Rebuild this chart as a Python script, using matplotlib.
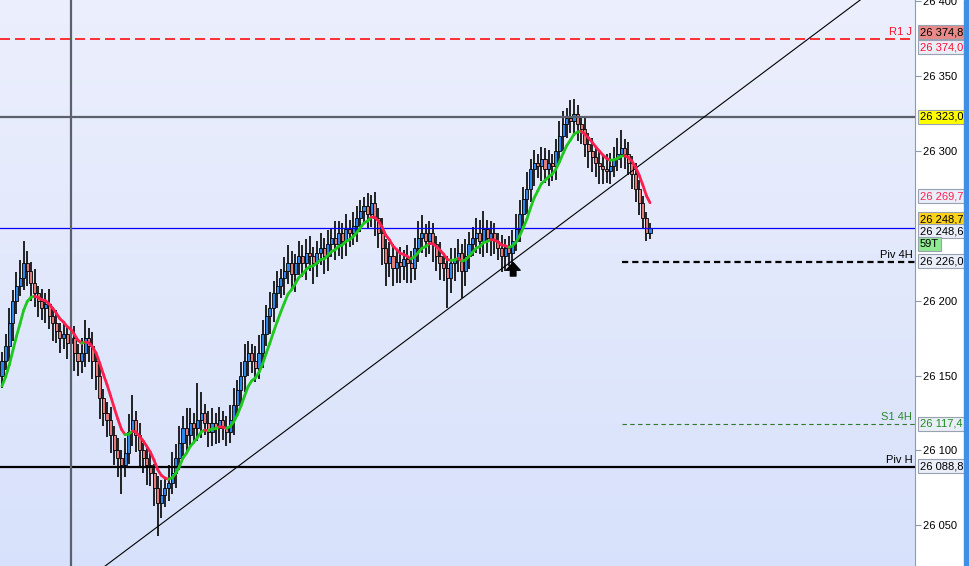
import numpy as np
import matplotlib.pyplot as plt
import matplotlib.transforms as mtransforms
from matplotlib.collections import LineCollection
from matplotlib.patches import Rectangle

plt.rcParams['font.family'] = ['Liberation Sans', 'DejaVu Sans']

# closes de chaque bougie
closes = [
    26160, 26170, 26185, 26200, 26210, 26215, 26225, 26220, 26212, 26205,
    26200, 26195, 26198, 26190, 26185, 26180, 26175, 26178, 26172, 26175,
    26165, 26160, 26165, 26175, 26170, 26160, 26150, 26135, 26125, 26120,
    26110, 26100, 26095, 26090, 26098, 26112, 26120, 26110, 26100, 26095,
    26090, 26085, 26075, 26065, 26070, 26075, 26078, 26085, 26095, 26105,
    26115, 26110, 26118, 26115, 26120, 26125, 26118, 26112, 26118, 26115,
    26120, 26115, 26112, 26120, 26130, 26140, 26150, 26160, 26165, 26160,
    26155, 26165, 26178, 26190, 26195, 26205, 26210, 26215, 26220, 26225,
    26218, 26225, 26230, 26225, 26232, 26230, 26225, 26232, 26235, 26230,
    26238, 26242, 26238, 26245, 26240, 26248, 26245, 26250, 26255, 26260,
    26263, 26258, 26265, 26255, 26245, 26235, 26225, 26230, 26222, 26226,
    26223, 26228, 26225, 26222, 26235, 26242, 26245, 26240, 26245, 26238,
    26230, 26225, 26222, 26215, 26225, 26228, 26232, 26220, 26230, 26238,
    26242, 26245, 26240, 26248, 26242, 26245, 26240, 26235, 26230, 26235,
    26232, 26240, 26248, 26258, 26268, 26275, 26288, 26292, 26290, 26295,
    26288, 26292, 26290, 26300, 26310, 26318, 26322, 26320, 26325, 26318,
    26315, 26305, 26300, 26296, 26292, 26290, 26288, 26287, 26290, 26295,
    26298, 26302, 26298, 26292, 26285, 26275, 26265, 26255, 26245, 26248.7,
]
first_open = 26150

# meches haute / basse (points au-dessus / au-dessous du corps)
wick_up = [
    6, 8, 10, 7, 9, 12, 15, 8, 6, 9,
    5, 8, 7, 10, 6, 9, 5, 8, 6, 7,
    8, 6, 10, 12, 7, 9, 5, 8, 6, 7,
    9, 6, 8, 5, 10, 12, 17, 6, 8, 5,
    7, 9, 6, 8, 10, 7, 12, 14, 9, 11,
    8, 13, 10, 7, 25, 14, 6, 8, 10, 7,
    9, 6, 8, 10, 12, 7, 9, 11, 8, 6,
    10, 12, 9, 7, 11, 8, 10, 6, 9, 12,
    8, 6, 10, 7, 9, 11, 6, 8, 10, 7,
    9, 6, 11, 8, 7, 10, 6, 9, 8, 7,
    6, 9, 6, 8, 7, 10, 6, 9, 8, 7,
    10, 6, 9, 8, 7, 11, 12, 6, 8, 7,
    5, 9, 6, 8, 10, 7, 9, 6, 11, 8,
    7, 10, 9, 12, 6, 8, 7, 5, 9, 6,
    8, 7, 10, 9, 8, 11, 7, 9, 6, 8,
    7, 9, 6, 8, 10, 9, 7, 12, 10, 6,
    5, 8, 7, 9, 6, 8, 7, 10, 9, 8,
    11, 12, 6, 8, 5, 7, 6, 5, 4, 3,
]
wick_dn = [
    8, 6, 10, 12, 9, 7, 8, 10, 12, 9,
    11, 8, 10, 9, 12, 8, 10, 7, 11, 9,
    12, 10, 8, 9, 11, 12, 10, 14, 9, 11,
    12, 10, 13, 19, 8, 7, 9, 11, 12, 10,
    13, 9, 12, 22, 10, 8, 9, 7, 10, 8,
    9, 11, 8, 10, 9, 12, 8, 10, 9, 11,
    10, 8, 9, 7, 10, 8, 9, 11, 10, 8,
    9, 7, 10, 8, 12, 9, 10, 8, 11, 9,
    10, 12, 8, 9, 11, 10, 14, 9, 8, 12,
    10, 9, 11, 8, 12, 10, 9, 8, 11, 9,
    8, 10, 9, 12, 10, 11, 15, 9, 12, 10,
    11, 9, 13, 10, 8, 9, 10, 11, 9, 12,
    10, 11, 9, 20, 10, 12, 9, 18, 10, 9,
    8, 10, 9, 11, 10, 12, 9, 8, 11, 10,
    9, 8, 7, 9, 8, 10, 9, 11, 8, 10,
    9, 11, 10, 9, 8, 10, 9, 8, 10, 11,
    10, 9, 11, 10, 9, 12, 10, 8, 9, 7,
    8, 9, 10, 8, 10, 9, 8, 7, 5, 4,
]

ma_start = 26143
ma_span = 8

# niveaux
r1_j = 26374.8
res_gris = 26323.0
ligne_bleue = 26248.6
piv_4h = 26226.0
s1_4h = 26117.4
piv_h = 26088.8
ligne_verticale = 19
oblique = [(28.5, 26022.7), (236.5, 26400.0)]
fleche = (141.2, 26216.5, 26225.5)

ticks = [26050, 26100, 26150, 26200, 26300, 26350, 26400]
tick_labels = ['26 050', '26 100', '26 150', '26 200', '26 300', '26 350', '26 400']

closes = np.array(closes, dtype=float)
n = len(closes)
x = np.arange(n)
opens = np.r_[first_open, closes[:-1]]
highs = np.maximum(opens, closes) + np.array(wick_up)
lows = np.minimum(opens, closes) - np.array(wick_dn)

alpha = 2 / (ma_span + 1)
ma = np.empty(n)
ma[0] = ma_start
for i in range(1, n):
    ma[i] = ma[i - 1] + alpha * (closes[i] - ma[i - 1])

fig = plt.figure(figsize=(9.69, 5.66), dpi=100)
fig.patch.set_facecolor('white')
ax = fig.add_axes([0, 0, 915 / 969, 1])

xmin, xmax = -0.55, 252.2
ymin, ymax = 26022.7, 26401

# fond degrade
top = np.array([0.925, 0.937, 0.99])
bot = np.array([0.845, 0.885, 0.985])
t = np.linspace(0, 1, 256)[:, None]
grad = (top * (1 - t) + bot * t)[:, None, :]
ax.imshow(grad, extent=[0, 1, 0, 1], transform=ax.transAxes, aspect='auto', zorder=0)

# bougies
ax.vlines(x, lows, highs, color='black', lw=1.2, zorder=2)
up = closes >= opens
bottom = np.minimum(opens, closes)
height = np.maximum(np.abs(closes - opens), 0.8)
ax.bar(x[up], height[up], bottom=bottom[up], width=0.85, color='#2f86e6',
       edgecolor='black', linewidth=0.6, zorder=3)
ax.bar(x[~up], height[~up], bottom=bottom[~up], width=0.85, color='#e07c7a',
       edgecolor='black', linewidth=0.6, zorder=3)

# lignes horizontales
ax.axhline(r1_j, color='#ff1010', lw=1.2, ls=(0, (6, 3)), zorder=4)
ax.axhline(res_gris, color='#5c606c', lw=1.6, zorder=4)
ax.axhline(ligne_bleue, color='#0000ff', lw=0.9, zorder=4)
ax.hlines(piv_4h, 171.3, xmax, color='black', lw=1.6, ls=(0, (2.8, 1.8)), zorder=4)
ax.hlines(s1_4h, 171.3, xmax, color='#2d7a2d', lw=0.8, ls=(0, (4, 3)), zorder=4)
ax.axhline(piv_h, color='black', lw=1.6, zorder=4)
ax.axvline(ligne_verticale, color='#5c606c', lw=1.6, zorder=4)
ax.axline(oblique[0], oblique[1], color='black', lw=0.8, zorder=4)

# moyenne mobile verte / rouge
segs = [[(x[i], ma[i]), (x[i + 1], ma[i + 1])] for i in range(n - 1)]
cols = ['#1ec81e' if ma[i + 1] >= ma[i] else '#ff1f4f' for i in range(n - 1)]
ax.add_collection(LineCollection(segs, colors=cols, linewidths=2.0, zorder=5,
                                 capstyle='round'))

# fleche
ax.annotate('', xy=(fleche[0], fleche[2]), xytext=(fleche[0], fleche[1]),
            arrowprops=dict(arrowstyle='simple,head_length=0.55,head_width=1.0,tail_width=0.4',
                            fc='black', ec='black', mutation_scale=10,
                            shrinkA=0, shrinkB=0), zorder=6)

ax.set_xlim(xmin, xmax)
ax.set_ylim(ymin, ymax)

for s in ['left', 'top', 'bottom']:
    ax.spines[s].set_visible(False)
ax.spines['right'].set_color('#8e9aae')
ax.set_xticks([])
ax.yaxis.tick_right()
ax.set_yticks(ticks)
ax.set_yticklabels(tick_labels)
ax.tick_params(axis='y', length=4, color='#8e9aae', labelsize=8, pad=2)

trans = mtransforms.blended_transform_factory(ax.transAxes, ax.transData)

# etiquettes des lignes
ax.text(0.997, r1_j + 1.2, 'R1 J', transform=trans, ha='right', va='bottom',
        fontsize=8, color='#ff1030')
ax.text(0.997, piv_4h + 1.5, 'Piv 4H', transform=trans, ha='right', va='bottom',
        fontsize=8, color='black')
ax.text(0.997, s1_4h + 1.5, 'S1 4H', transform=trans, ha='right', va='bottom',
        fontsize=8, color='#2a8a2a')
ax.text(0.997, piv_h + 1.5, 'Piv H', transform=trans, ha='right', va='bottom',
        fontsize=8, color='black')

# boites de prix sur l'axe
def tag(y, s, fc, tc, z=6):
    ax.text(1.0055, y, s, transform=trans, ha='left', va='center', fontsize=8,
            color=tc, clip_on=False, zorder=z,
            bbox=dict(boxstyle='square,pad=0.18', fc=fc, ec='#98a2b2', lw=0.8))

pale = '#e9eef8'
tag(26379.3, '26 374,8', '#e88a88', 'black')
tag(26369.3, '26 374,0', pale, '#ff1030')
tag(res_gris, '26 323,0', '#ffff00', 'black')
tag(26269.7, '26 269,7', pale, '#ff1f4f')
tag(26254.3, '26 248,7', '#ffd21a', 'black', z=6)
tag(26246.5, '26 248,6', pale, 'black', z=7)
tag(26237.7, '59T', '#90e890', 'black', z=7)
tag(26226.5, '26 226,0', pale, 'black')
tag(26117.7, '26 117,4', pale, '#1e8c1e')
tag(26089.3, '26 088,8', pale, 'black')

fig.patches.append(Rectangle((964 / 969, 0), 5 / 969, 1, transform=fig.transFigure,
                             color='#3f8fe6', zorder=10))

fig.savefig('out.png', dpi=100)
